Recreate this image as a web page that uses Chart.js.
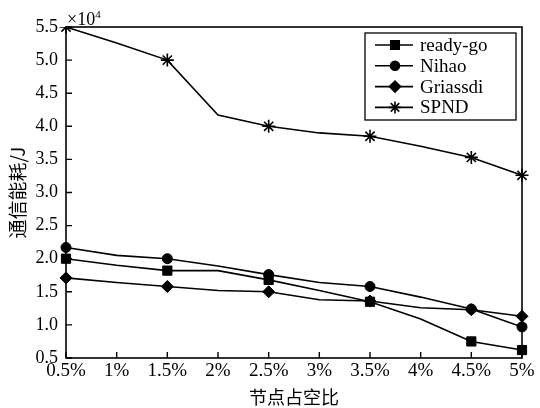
<!DOCTYPE html>
<html>
<head>
<meta charset="utf-8">
<script src="https://cdn.jsdelivr.net/npm/chart.js@4.4.0/dist/chart.umd.min.js"></script>
<style>
  body { margin: 0; background: #fff; }
  #wrap { width: 540px; height: 408px; }
</style>
</head>
<body>
<div id="wrap"><canvas id="energyChart" width="540" height="408"></canvas></div>
<script>
// Data (values in units of 1e4 J)
const dutyCycles = ['0.5%', '1%', '1.5%', '2%', '2.5%', '3%', '3.5%', '4%', '4.5%', '5%'];
const readyGo   = [2.00, 1.90, 1.82, 1.82, 1.68, 1.52, 1.35, 1.09, 0.75, 0.62];
const nihao     = [2.17, 2.05, 2.00, 1.89, 1.76, 1.64, 1.58, 1.42, 1.24, 0.97];
const griassdi  = [1.71, 1.64, 1.58, 1.52, 1.50, 1.38, 1.36, 1.26, 1.23, 1.13];
const spnd      = [5.50, 5.26, 5.00, 4.17, 4.00, 3.90, 3.85, 3.70, 3.53, 3.26];
const seriesNames = ['ready-go', 'Nihao', 'Griassdi', 'SPND'];
const markerStyles = ['rect', 'circle', 'rectRot', 'star'];
const yTicks = [0.5, 1.0, 1.5, 2.0, 2.5, 3.0, 3.5, 4.0, 4.5, 5.0, 5.5];

const serif = '"Liberation Serif", "Times New Roman", serif';
const cjk = '"Noto Sans CJK SC", sans-serif';

// markers only drawn on every other point plus the last one
const markerRadius = (r) => dutyCycles.map((_, i) => (i % 2 === 0 || i === dutyCycles.length - 1) ? r : 0);
const markerSizes = [6.5, 5, 6, 6.5];

const datasets = [readyGo, nihao, griassdi, spnd].map((vals, k) => ({
  label: seriesNames[k],
  data: vals,
  borderColor: '#000',
  backgroundColor: '#000',
  borderWidth: 1.6,
  pointStyle: markerStyles[k],
  pointRadius: markerRadius(markerSizes[k]),
  pointBorderWidth: k === 3 ? 1.6 : 1,
  tension: 0
}));

// inward ticks, frame, x10^4 note and the boxed legend
const decorPlugin = {
  id: 'decor',
  afterDatasetsDraw(chart) {
    const { ctx, chartArea: a, scales } = chart;
    ctx.save();
    ctx.strokeStyle = '#000';
    ctx.lineWidth = 1.6;
    ctx.strokeRect(a.left, a.top, a.right - a.left, a.bottom - a.top);
    ctx.lineWidth = 1.4;
    ctx.beginPath();
    scales.x.ticks.forEach((t, i) => {
      const x = scales.x.getPixelForTick(i);
      ctx.moveTo(x, a.bottom); ctx.lineTo(x, a.bottom - 6);
    });
    scales.y.ticks.forEach((t, i) => {
      const y = scales.y.getPixelForTick(i);
      ctx.moveTo(a.left, y); ctx.lineTo(a.left + 6, y);
    });
    ctx.stroke();

    // x10^4
    ctx.fillStyle = '#000';
    ctx.textBaseline = 'alphabetic';
    ctx.font = '18px ' + serif;
    ctx.fillText('\u00d710', a.left + 1, a.top - 2);
    const w = ctx.measureText('\u00d710').width;
    ctx.font = '11px ' + serif;
    ctx.fillText('4', a.left + 1 + w, a.top - 9);

    // legend
    const lx = 365, ly = 33, lw = 151, lh = 87;
    ctx.fillStyle = '#fff';
    ctx.fillRect(lx, ly, lw, lh);
    ctx.lineWidth = 1.3;
    ctx.strokeRect(lx, ly, lw, lh);
    chart.data.datasets.forEach((ds, k) => {
      const y = ly + 12 + k * 20.8;
      ctx.strokeStyle = '#000';
      ctx.fillStyle = '#000';
      ctx.lineWidth = 1.6;
      ctx.beginPath();
      ctx.moveTo(lx + 10, y); ctx.lineTo(lx + 48, y);
      ctx.stroke();
      Chart.helpers.drawPoint(ctx, {
        pointStyle: ds.pointStyle,
        radius: markerSizes[k] - 0.5,
        borderWidth: ds.pointBorderWidth
      }, lx + 30, y);
      ctx.fillStyle = '#000';
      ctx.font = '19px ' + serif;
      ctx.textBaseline = 'middle';
      ctx.fillText(ds.label, lx + 55, y + 1);
    });
    ctx.restore();
  }
};

new Chart(document.getElementById('energyChart').getContext('2d'), {
  type: 'line',
  data: { labels: dutyCycles, datasets },
  options: {
    responsive: false,
    animation: false,
    layout: { padding: { left: 0, right: 18, top: 27, bottom: 0 } },
    plugins: { legend: { display: false }, tooltip: { enabled: false } },
    scales: {
      x: {
        offset: false,
        grid: { display: false, drawTicks: false },
        border: { display: false },
        ticks: { color: '#000', font: { family: serif, size: 19 }, padding: 2, maxRotation: 0, autoSkip: false },
        title: { display: true, text: '节点占空比', color: '#000', font: { family: cjk, size: 18 }, padding: { top: 0, bottom: 0 } },
        afterFit: (s) => { s.height = 50; }
      },
      y: {
        min: 0.5,
        max: 5.5,
        afterBuildTicks: (s) => { s.ticks = yTicks.map(v => ({ value: v })); },
        grid: { display: false, drawTicks: false },
        border: { display: false },
        ticks: { color: '#000', font: { family: serif, size: 18 }, padding: 8, callback: v => v.toFixed(1) },
        title: { display: true, text: '通信能耗/J', color: '#000', font: { family: cjk, size: 19 }, padding: { top: 6, bottom: 0 } },
        afterFit: (s) => { s.width = 66; }
      }
    }
  },
  plugins: [decorPlugin]
});
</script>
</body>
</html>
